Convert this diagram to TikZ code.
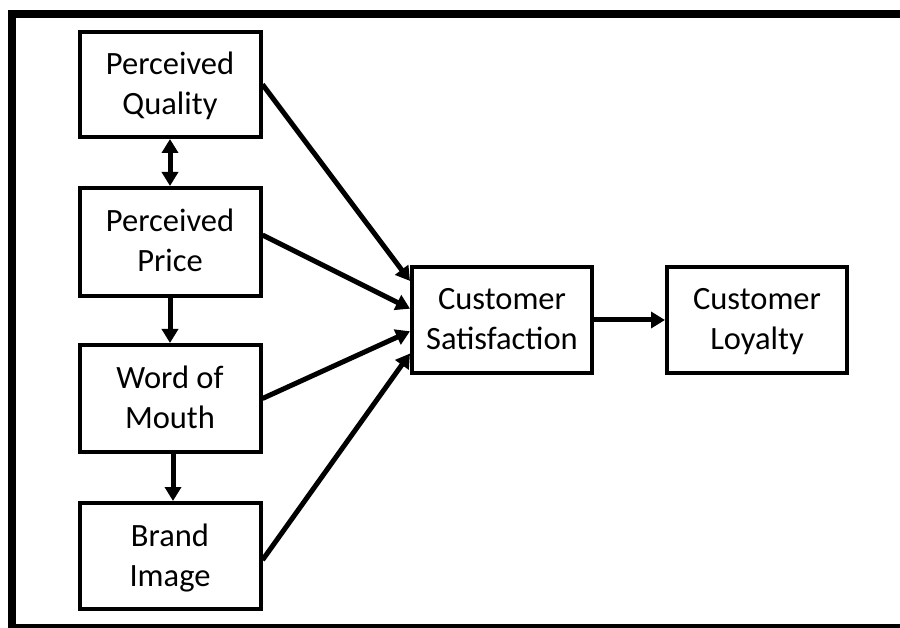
\documentclass[tikz,border=0pt]{standalone}
\usepackage{fontspec}
\setmainfont{Carlito}
\usetikzlibrary{arrows.meta}
\newcommand\lnstrut{\rule[-10pt]{0pt}{40pt}}
\begin{document}
\begin{tikzpicture}[x=1pt,y=-1pt,
  box/.style={draw=black,line width=4pt,fill=white,align=center,
    minimum width=181pt,minimum height=106pt,inner sep=0pt,
    font=\fontsize{32.5}{40}\selectfont},
  conn/.style={line width=5pt,-{Triangle[length=14pt,width=16pt]}},
  dconn/.style={line width=5pt,{Triangle[length=14pt,width=16pt]}-{Triangle[length=14pt,width=16pt]}}]
\useasboundingbox (0,0) rectangle (900,628);
\fill[white] (0,0) rectangle (900,628);
\draw[line width=8pt] (900,14) -- (8,14);
\draw[line width=8pt] (12,10) -- (12,628);
\draw[line width=4pt] (8,626) -- (900,626);
\node[box,minimum height=105pt] (pq) at (170,84.5) {\lnstrut Perceived\\\lnstrut Quality};
\node[box,minimum height=108pt] (pp) at (170,242) {\lnstrut Perceived\\\lnstrut Price};
\node[box,minimum height=107pt] (wom) at (170,398.5) {\lnstrut Word of\\\lnstrut Mouth};
\node[box,minimum height=106pt] (bi) at (170,556) {\lnstrut Brand\\\lnstrut Image};
\node[box,minimum width=180pt] (cs) at (502,320) {\lnstrut Customer\\\lnstrut Satisfaction};
\node[box,minimum width=180pt] (cl) at (757,320) {\lnstrut Customer\\\lnstrut Loyalty};
\draw[dconn] (pq.south) -- (pp.north);
\draw[conn] (pp.south) -- (wom.north);
\draw[conn] ([xshift=3pt]wom.south) -- ([xshift=3pt]bi.north);
\draw[conn] (pq.east) -- (cs.157);
\draw[conn] ([yshift=7pt]pp.east) -- (cs.173.7);
\draw[conn] (wom.east) -- (cs.187.6);
\draw[conn] ([yshift=-4pt]bi.east) -- (cs.200);
\draw[conn] (cs.east) -- (cl.west);
\end{tikzpicture}
\end{document}
